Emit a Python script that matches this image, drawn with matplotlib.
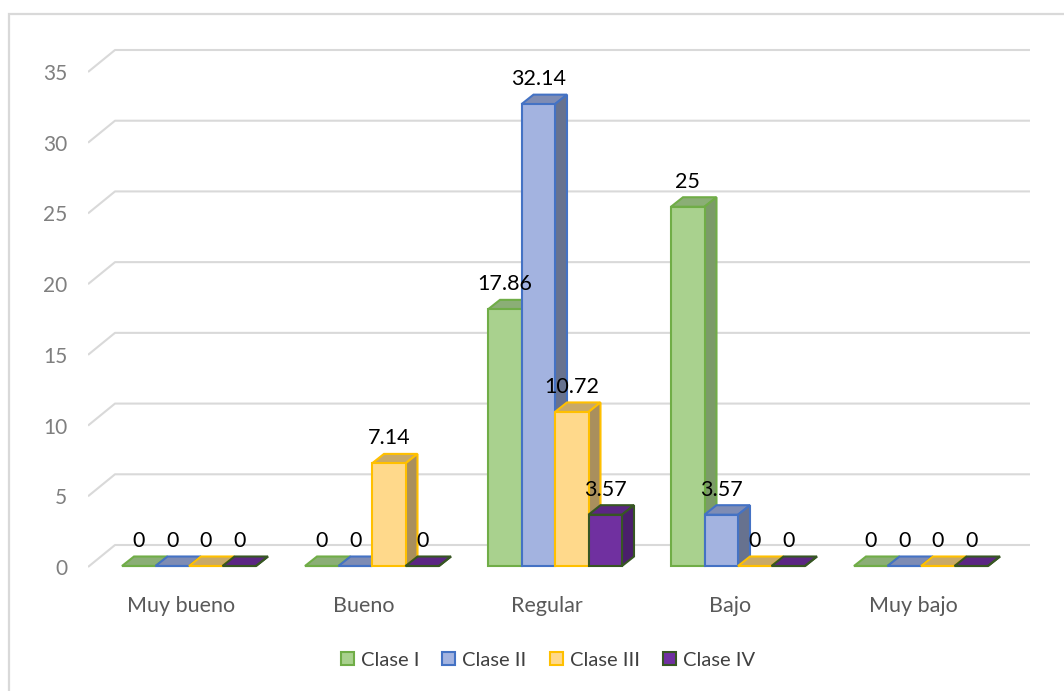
import matplotlib
matplotlib.use("Agg")
import matplotlib.pyplot as plt
from matplotlib.patches import Polygon, Patch, Rectangle
import numpy as np

# ---------------- data ----------------
categories = ["Muy bueno", "Bueno", "Regular", "Bajo", "Muy bajo"]
series_names = ["Clase I", "Clase II", "Clase III", "Clase IV"]
clase_1 = [0, 0, 17.86, 25, 0]
clase_2 = [0, 0, 32.14, 3.57, 0]
clase_3 = [0, 7.14, 10.72, 0, 0]
clase_4 = [0, 0, 3.57, 0, 0]
y_ticks = [0, 5, 10, 15, 20, 25, 30, 35]

# ---------------- styles ----------------
front_cols = ["#A9D18E", "#A3B3E0", "#FFD98B", "#7030A0"]
top_cols = ["#8BAE76", "#7E8CB4", "#C8A968", "#5B2683"]
side_cols = ["#7B9B68", "#67728F", "#A98F5D", "#4A1F6B"]
edge_cols = ["#70AD47", "#4472C4", "#FFC000", "#375623"]

plt.rcParams['font.family'] = ['Lato', 'DejaVu Sans']

W, H = 1064, 691
fig = plt.figure(figsize=(W / 100, H / 100), dpi=100)

# layout (pixel geometry of the reference)
x0_px, sx = 189.0, 183.0          # category 0 centre, px per category
y0_px, sy = 567.0, 495.0 / 35.0   # value 0 row on the axis plane, px per unit
sy_bar = 14.37                    # bars sit nearer the viewer (perspective)
ax_left, ax_right, ax_top, ax_bot = 88, 1040, 36, 581
rect = [ax_left / W, 1 - ax_bot / H, (ax_right - ax_left) / W, (ax_bot - ax_top) / H]
ax = fig.add_axes(rect)
ax.set_xlim((ax_left - x0_px) / sx, (ax_right - x0_px) / sx)
ax.set_ylim((y0_px - ax_bot) / sy, (y0_px - ax_top) / sy)
for s in ax.spines.values():
    s.set_visible(False)

axb = fig.add_axes(rect, sharex=ax)
axb.set_ylim((y0_px - 1 - ax_bot) / sy_bar, (y0_px - 1 - ax_top) / sy_bar)
axb.set_axis_off()
axb.patch.set_visible(False)

# back wall offsets / bar depth (data units)
wall_dx, wall_dy = 27 / sx, 22 / sy
bar_dx, bar_dy = 12 / sx, 9.5 / sy_bar
grid_right = (1030 - x0_px) / sx
xl = ax.get_xlim()[0]

grid_col = "#D9D9D9"
for v in y_ticks:
    ax.plot([xl, xl + wall_dx, grid_right], [v, v + wall_dy, v + wall_dy],
            color=grid_col, lw=1.5, zorder=1, solid_capstyle='butt')

# bars
series = [clase_1, clase_2, clase_3, clase_4]
width = 33.5 / sx
idx = np.arange(len(categories))
z = 3
labels = []
for ci in idx:
    for si, vals in enumerate(series):
        h = vals[ci]
        x = ci + (si - 2) * width
        axb.bar(x, h, width=width, align='edge', color=front_cols[si],
                edgecolor=edge_cols[si], linewidth=1.5, zorder=z + 0.2)
        top = Polygon([(x, h), (x + width, h), (x + width + bar_dx, h + bar_dy),
                       (x + bar_dx, h + bar_dy)], closed=True,
                      facecolor=top_cols[si], edgecolor=edge_cols[si],
                      linewidth=1.5, zorder=z, joinstyle='miter')
        side = Polygon([(x + width, 0), (x + width, h),
                        (x + width + bar_dx, h + bar_dy), (x + width + bar_dx, bar_dy)],
                       closed=True, facecolor=side_cols[si], edgecolor=edge_cols[si],
                       linewidth=1.5, zorder=z + 0.1, joinstyle='miter')
        axb.add_patch(side)
        axb.add_patch(top)
        z += 1
        labels.append((x + width / 2, h, f"{h:g}"))

for xc, h, t in labels:
    axb.text(xc, h + 25 / sy_bar, t, ha='center', va='center', fontsize=15.5,
             color='#000000', zorder=200)

# axes ticks
ax.set_yticks(y_ticks)
ax.set_yticklabels([str(v) for v in y_ticks])
ax.tick_params(axis='y', length=0, pad=15, labelsize=15, labelcolor='#7F7F7F')
ax.set_xticks(idx - 8 / sx)
ax.set_xticklabels(categories)
ax.tick_params(axis='x', length=0, pad=11, labelsize=15.5, labelcolor='#595959')

# legend
handles = [Patch(facecolor=front_cols[i], edgecolor=edge_cols[i], linewidth=1.5,
                 label=series_names[i]) for i in range(4)]
fig.legend(handles=handles, loc='center', bbox_to_anchor=(548 / W, 1 - 660 / H),
           ncol=4, frameon=False, fontsize=14.5, handlelength=0.65, handleheight=0.65,
           handletextpad=0.35, columnspacing=1.15, labelcolor='#404040')

# chart border
fig.patches.append(Rectangle((9 / W, -0.05), 1.2, 1 - 14 / H + 0.05,
                             transform=fig.transFigure, fill=False,
                             edgecolor='#D9D9D9', linewidth=1.6))

fig.savefig("out.png", dpi=100)
